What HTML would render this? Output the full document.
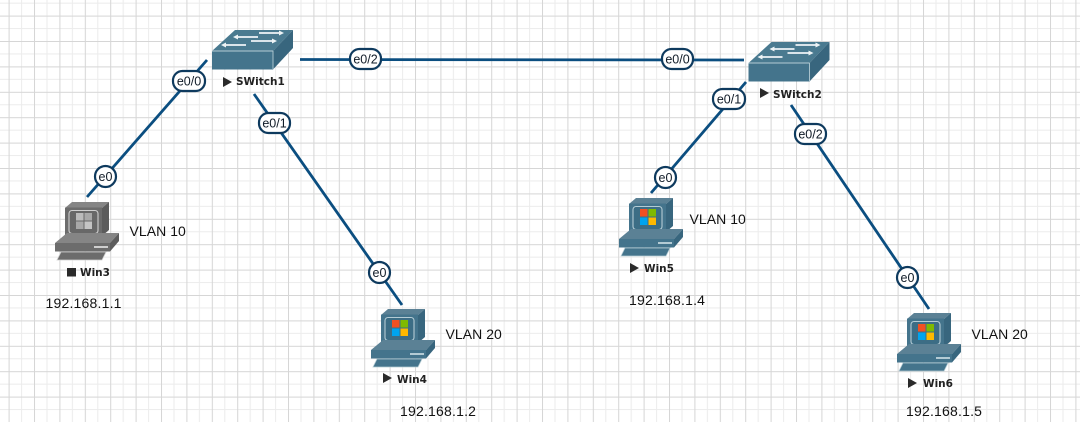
<!DOCTYPE html>
<html><head><meta charset="utf-8"><style>
html,body{margin:0;padding:0;background:#fff;overflow:hidden}
svg{display:block;filter:blur(.35px)}
.v{font:14px "Liberation Sans",sans-serif;fill:#111;letter-spacing:.05px}
.ip{letter-spacing:.2px}
.n{font:bold 10.5px "DejaVu Sans",sans-serif;fill:#222}
.l{font:12.5px "Liberation Sans",sans-serif;fill:#111c28;text-anchor:middle}
.b{fill:#fff;stroke:#0e3a5e;stroke-width:2.2}
.ln{stroke:#0b4e80;stroke-width:2.8;fill:none}
.c{--top:#5b8195;--front:#44748c;--side:#38667e;--edge:#b4cbd4;--screen:#3c6d85}
.g{--top:#858585;--front:#6c6c6c;--side:#5c5c5c;--edge:#cfcfcf;--screen:#686868}
</style></head><body>
<svg width="1080" height="422" viewBox="0 0 1080 422" xmlns="http://www.w3.org/2000/svg">
<defs>
<pattern id="gr" x="8.6" y="15.6" width="25.4" height="25.4" patternUnits="userSpaceOnUse">
<rect width="25.4" height="25.4" fill="#fff"/>
<path d="M0 13H25.4M13 0V25.4" stroke="#ececec" stroke-width="1" fill="none"/>
<path d="M0.5 0V25.4M0 0.5H25.4" stroke="#d6d6d6" stroke-width="1" fill="none"/>
</pattern>
<g id="pc">
<polygon points="31,20 38,14 75,14 68,20" fill="var(--top)"/>
<rect x="31" y="19.5" width="37" height="29" fill="var(--front)"/>
<polygon points="68,20 75,14 75,42 68,48" fill="var(--side)"/>
<rect x="35" y="22.5" width="29" height="23" rx="3" fill="var(--screen)" stroke="var(--edge)" stroke-width="1.1"/>
<polygon points="21,55 33,45 85,45 76,55" fill="var(--top)"/>
<rect x="21" y="55" width="55" height="8.5" fill="var(--front)"/>
<polygon points="76,55 85,45 85,53 76,63.5" fill="var(--side)"/>
<rect x="60" y="58" width="14" height="2" fill="var(--edge)"/>
<polygon points="23,72 27,64 72,64 68,72" fill="var(--front)" stroke="var(--edge)" stroke-width=".8"/>
</g>
<g id="logo">
<rect x="42" y="25" width="7.5" height="7.5" fill="#f25022"/>
<rect x="50.5" y="25" width="7.5" height="7.5" fill="#7fba00"/>
<rect x="42" y="33.5" width="7.5" height="7.5" fill="#00a4ef"/>
<rect x="50.5" y="33.5" width="7.5" height="7.5" fill="#ffb900"/>
</g>
<g id="sw">
<polygon points="212,51 235,30 293,30 273,51" fill="#4a7a90"/>
<rect x="212" y="51" width="61" height="18.500" fill="#44748c"/>
<polygon points="273,51 293,30 293,48 273,69.500" fill="#38667e"/>
<path d="M273 51H212M273 51V69" stroke="#b4cbd4" stroke-width=".9" fill="none"/>
<path d="M238 37H258M259 33H279M251 41H272M226 45H246" stroke="#eef4f6" stroke-width="1.7" fill="none"/>
<path d="M238 34.500l-5 2.500 5 2.500zM279 30.500l5 2.500-5 2.500zM272 38.500l5 2.500-5 2.500zM226 42.500l-5 2.500 5 2.500z" fill="#eef4f6"/>
</g>
</defs>
<rect width="1080" height="422" fill="url(#gr)"/>

<line class="ln" x1="87" y1="197" x2="207" y2="60"/>
<line class="ln" x1="254" y1="94" x2="402" y2="305"/>
<line class="ln" x1="300" y1="59.500" x2="744" y2="60"/>
<line class="ln" x1="746" y1="82" x2="651" y2="193"/>
<line class="ln" x1="791" y1="105" x2="929" y2="309"/>

<use href="#sw"/>
<use href="#sw" transform="translate(536.500,12)"/>

<g class="g" transform="translate(34,188)"><use href="#pc"/>
<rect x="42" y="25" width="7.500" height="7.500" fill="#bbb"/><rect x="50.500" y="25" width="7.500" height="7.500" fill="#a8a8a8"/><rect x="42" y="33.500" width="7.500" height="7.500" fill="#a8a8a8"/><rect x="50.500" y="33.500" width="7.500" height="7.500" fill="#c4c4c4"/></g>
<g class="c" transform="translate(350,295)"><use href="#pc"/><use href="#logo"/></g>
<g class="c" transform="translate(598,184)"><use href="#pc"/><use href="#logo"/></g>
<g class="c" transform="translate(876,299)"><use href="#pc"/><use href="#logo"/></g>

<rect class="b" x="173" y="71" width="32" height="20" rx="9.500"/><text class="l" x="189" y="85.500">e0/0</text>
<rect class="b" x="95" y="166" width="21" height="21" rx="10.500"/><text class="l" x="105.500" y="181">e0</text>
<rect class="b" x="259" y="113" width="31" height="20" rx="9.500"/><text class="l" x="274.500" y="127.500">e0/1</text>
<rect class="b" x="369" y="262" width="21" height="21" rx="10.500"/><text class="l" x="379.500" y="277">e0</text>
<rect class="b" x="350" y="49" width="31" height="20" rx="9.500"/><text class="l" x="365.500" y="63.500">e0/2</text>
<rect class="b" x="662" y="49" width="31" height="20" rx="9.500"/><text class="l" x="677.500" y="63.500">e0/0</text>
<rect class="b" x="713" y="89" width="32" height="20" rx="9.500"/><text class="l" x="729" y="103.500">e0/1</text>
<rect class="b" x="655" y="167" width="21" height="21" rx="10.500"/><text class="l" x="665.500" y="182">e0</text>
<rect class="b" x="795" y="124" width="31" height="20" rx="9.500"/><text class="l" x="810.500" y="138.500">e0/2</text>
<rect class="b" x="897" y="267" width="21" height="21" rx="10.500"/><text class="l" x="907.500" y="282">e0</text>

<path d="M223 77l9 5-9 5zM760 88l9 5-9 5zM383 373l9 5-9 5zM630 263l9 5-9 5zM908 378l9 5-9 5z" fill="#2a2a2a"/>
<rect x="67" y="268" width="9" height="8.500" fill="#2a2a2a"/>
<text class="n" x="236" y="85">SWitch1</text>
<text class="n" x="773" y="98">SWitch2</text>
<text class="n" x="80" y="276">Win3</text>
<text class="n" x="397" y="383">Win4</text>
<text class="n" x="644" y="272">Win5</text>
<text class="n" x="923" y="387">Win6</text>

<text class="v" x="129.500" y="236">VLAN 10</text>
<text class="v" x="445.500" y="339">VLAN 20</text>
<text class="v" x="689.500" y="224">VLAN 10</text>
<text class="v" x="971.500" y="339">VLAN 20</text>
<text class="v ip" x="45.500" y="308">192.168.1.1</text>
<text class="v ip" x="400" y="416">192.168.1.2</text>
<text class="v ip" x="629" y="305">192.168.1.4</text>
<text class="v ip" x="906" y="416">192.168.1.5</text>
</svg>
</body></html>
